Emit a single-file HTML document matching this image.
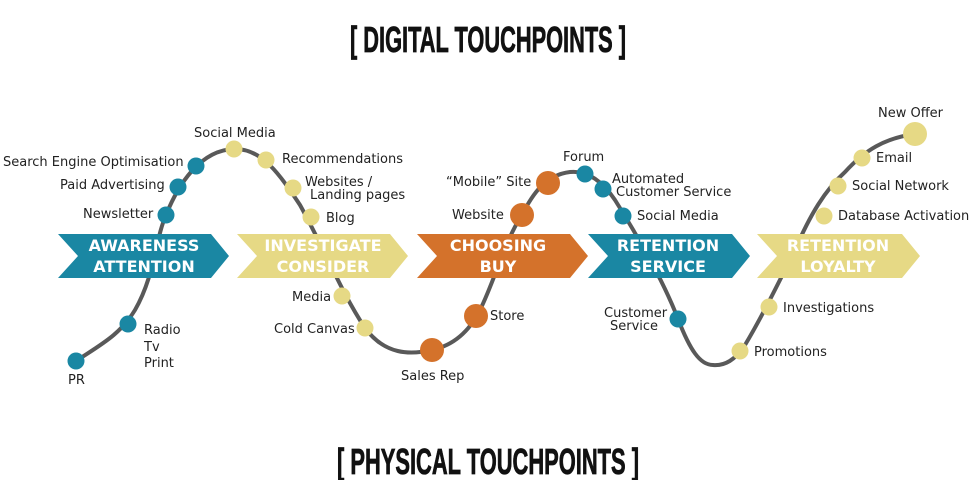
<!DOCTYPE html>
<html><head><meta charset="utf-8"><style>
html,body{margin:0;padding:0;background:#fff;width:971px;height:480px;overflow:hidden}
svg{display:block}
.l{font-family:"DejaVu Sans","Liberation Sans",sans-serif;font-size:13px;fill:#222}
.a{font-family:"DejaVu Sans","Liberation Sans",sans-serif;font-weight:bold;font-size:16px;fill:#fff;text-anchor:middle}
.t{font-family:"Liberation Sans Narrow","Liberation Sans",sans-serif;font-weight:bold;font-size:36px;fill:#111;text-anchor:middle;stroke:#111;stroke-width:0.8}
</style></head><body>
<svg width="971" height="480" viewBox="0 0 971 480">
<text class="t" x="488" y="52" textLength="276" lengthAdjust="spacingAndGlyphs">[ DIGITAL TOUCHPOINTS ]</text>
<text class="t" x="488" y="474" textLength="302" lengthAdjust="spacingAndGlyphs">[ PHYSICAL TOUCHPOINTS ]</text>

<path d="M76,361 C100,345 120,335 135,310 C155,275 155,240 166,215 C178,185 200,150 234,149 C262,148 280,175 300,205 C325,250 340,290 365,328 C385,355 410,355 432,350 C455,345 470,330 480,310 C495,280 505,240 522,215 C532,195 545,175 570,172 C590,170 605,185 615,200 C640,240 665,285 678,319 C690,350 700,365 713,365 C725,366 735,360 745,345 C760,320 775,290 795,250 C810,215 825,190 845,172 C865,150 885,138 915,134" fill="none" stroke="#595959" stroke-width="4"/>

<polygon points="58,234 211,234 229,256 211,278 58,278 78,256" fill="#1a87a3"/>
<polygon points="237,234 390,234 408,256 390,278 237,278 257,256" fill="#e6d985"/>
<polygon points="417,234 570,234 588,256 570,278 417,278 437,256" fill="#d4722b"/>
<polygon points="588,234 732,234 750,256 732,278 588,278 608,256" fill="#1a87a3"/>
<polygon points="757,234 902,234 920,256 902,278 757,278 777,256" fill="#e6d985"/>
<text class="a" x="144" y="251">AWARENESS</text><text class="a" x="144" y="272">ATTENTION</text>
<text class="a" x="323" y="251">INVESTIGATE</text><text class="a" x="323" y="272">CONSIDER</text>
<text class="a" x="498" y="251">CHOOSING</text><text class="a" x="498" y="272">BUY</text>
<text class="a" x="668" y="251">RETENTION</text><text class="a" x="668" y="272">SERVICE</text>
<text class="a" x="838" y="251">RETENTION</text><text class="a" x="838" y="272">LOYALTY</text>

<g fill="#1a87a3">
<circle cx="76" cy="361" r="8.5"/><circle cx="128" cy="324" r="8.5"/><circle cx="166" cy="215" r="8.5"/><circle cx="178" cy="187" r="8.5"/><circle cx="196" cy="166" r="8.5"/>
<circle cx="585" cy="174" r="8.5"/><circle cx="603" cy="189" r="8.5"/><circle cx="623" cy="216" r="8.5"/><circle cx="678" cy="319" r="8.5"/>
</g>
<g fill="#e6d985">
<circle cx="234" cy="149" r="8.5"/><circle cx="266" cy="160" r="8.5"/><circle cx="293" cy="188" r="8.5"/><circle cx="311" cy="217" r="8.5"/><circle cx="342" cy="296" r="8.5"/><circle cx="365" cy="328" r="8.5"/>
<circle cx="740" cy="351" r="8.5"/><circle cx="769" cy="307" r="8.5"/><circle cx="804" cy="216" r="0"/>
<circle cx="824" cy="216" r="8.5"/><circle cx="838" cy="186" r="8.5"/><circle cx="862" cy="158" r="8.5"/><circle cx="915" cy="134" r="12"/>
</g>
<g fill="#d4722b">
<circle cx="432" cy="350" r="12"/><circle cx="476" cy="316" r="12"/><circle cx="522" cy="215" r="12"/><circle cx="548" cy="183" r="12"/>
</g>

<g class="l">
<text x="68" y="384">PR</text>
<text x="144" y="334">Radio</text><text x="144" y="351">Tv</text><text x="144" y="367">Print</text>
<text x="83" y="218">Newsletter</text>
<text x="60" y="189">Paid Advertising</text>
<text x="3" y="166">Search Engine Optimisation</text>
<text x="194" y="137">Social Media</text>
<text x="282" y="163">Recommendations</text>
<text x="305" y="186">Websites /</text><text x="310" y="199">Landing pages</text>
<text x="326" y="222">Blog</text>
<text x="292" y="301">Media</text>
<text x="274" y="333">Cold Canvas</text>
<text x="401" y="380">Sales Rep</text>
<text x="490" y="320">Store</text>
<text x="452" y="219">Website</text>
<text x="446" y="186">“Mobile” Site</text>
<text x="563" y="161">Forum</text>
<text x="612" y="183">Automated</text><text x="616" y="196">Customer Service</text>
<text x="637" y="220">Social Media</text>
<text x="604" y="317">Customer</text><text x="610" y="330">Service</text>
<text x="754" y="356">Promotions</text>
<text x="783" y="312">Investigations</text>
<text x="838" y="220">Database Activation</text>
<text x="852" y="190">Social Network</text>
<text x="876" y="162">Email</text>
<text x="878" y="117">New Offer</text>
</g>
</svg>
</body></html>
